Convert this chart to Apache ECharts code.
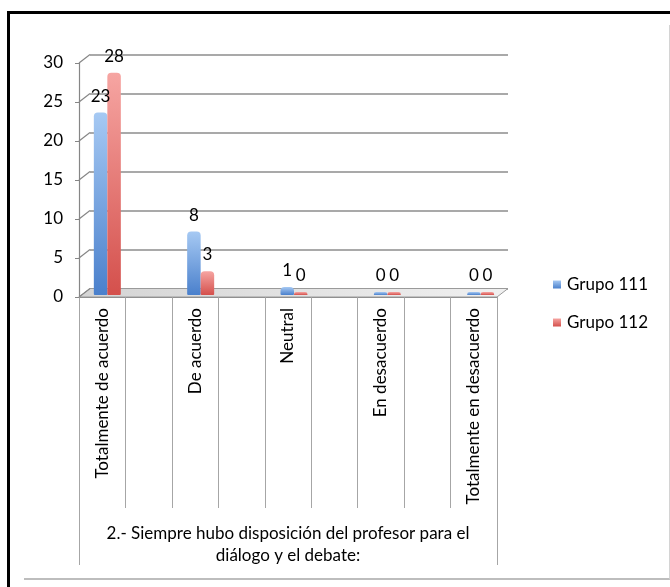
<!DOCTYPE html>
<html>
<head>
<meta charset="utf-8">
<script src="https://cdn.jsdelivr.net/npm/echarts@6/dist/echarts.min.js"></script>
<style>
  html, body { margin: 0; padding: 0; background: #fff; }
  #wrap { position: relative; width: 670px; height: 587px; overflow: hidden; }
  .frame-outer { position: absolute; left: 7px; top: 11px; right: 0; bottom: 0;
                 border-top: 3px solid #000; border-left: 3px solid #000; }
  .frame-inner { position: absolute; left: 24px; top: 25px; width: 645px; height: 553px;
                 border-right: 1px solid #d4d4d4; border-bottom: 2px solid #bdbdbd; }
  #chart { position: absolute; left: 0; top: 0; width: 670px; height: 587px; }
</style>
</head>
<body>
<div id="wrap">
  <div class="frame-outer"></div>
  <div class="frame-inner"></div>
  <div id="chart"></div>
</div>
<script>
// Survey answers per response option
const categories = ['Totalmente de acuerdo', 'De acuerdo', 'Neutral', 'En desacuerdo', 'Totalmente en desacuerdo'];
const grupo111 = [23, 8, 1, 0, 0];
const grupo112 = [28, 3, 0, 0, 0];
const seriesNames = ['Grupo 111', 'Grupo 112'];
const questionLabel = '2.- Siempre hubo disposición del profesor para el\ndiálogo y el debate:';
const yTicks = [0, 5, 10, 15, 20, 25, 30];

// The category axis has an empty slot between every two answers
const slotCats = [];
const slot111 = [];
const slot112 = [];
categories.forEach((c, i) => {
  if (i > 0) { slotCats.push(''); slot111.push('-'); slot112.push('-'); }
  slotCats.push(c);
  slot111.push(grupo111[i]);
  slot112.push(grupo112[i]);
});

const yMin = yTicks[0];
const yMax = yTicks[yTicks.length - 1];
const yStep = yTicks[1] - yTicks[0];

// pseudo-3D depth: back wall is shifted right/up from the front plane
const DX = 11, DY = -8.5;
const FRONT = { left: 79, top: 63, width: 418, height: 234 };
const BACK = { left: FRONT.left + DX, top: FRONT.top + DY, width: FRONT.width, height: FRONT.height };
const MID = { left: 84, top: 57, width: 420, height: 238 };

const FONT = 'Lato, Carlito, "Open Sans", sans-serif';
const FS = 17;
const AXIS_GRAY = '#868686';
const DIVIDER_GRAY = '#a6a6a6';

const chart = echarts.init(document.getElementById('chart'), null, { renderer: 'canvas' });

const floorFill = new echarts.graphic.LinearGradient(0, 0, 1, 0, [
  { offset: 0, color: '#d4d4d4' },
  { offset: 1, color: '#f0f0f0' }
]);

// floor of the plot and the diagonal stubs joining front ticks to the back wall
function renderDepth(params, api) {
  const v = api.value(1);
  const slot = api.size([1, 0])[0];
  const p = api.coord([0, v]);
  const x0 = p[0] - slot / 2;
  const children = [];
  if (v === yMin) {
    const pr = api.coord([slotCats.length - 1, v]);
    const x1 = pr[0] + slot / 2;
    children.push({
      type: 'polygon',
      shape: { points: [[x0, p[1]], [x1, p[1]], [x1 + DX, p[1] + DY], [x0 + DX, p[1] + DY]] },
      style: { fill: floorFill, stroke: '#9a9a9a', lineWidth: 1 }
    });
  }
  children.push({
    type: 'line',
    shape: { x1: x0, y1: p[1], x2: x0 + DX, y2: p[1] + DY },
    style: { stroke: AXIS_GRAY, lineWidth: 1.2 }
  });
  return { type: 'group', children };
}

const blueFill = new echarts.graphic.LinearGradient(0, 0, 0, 1, [
  { offset: 0, color: '#a6c9f3' },
  { offset: 1, color: '#4a80cc' }
]);
const redFill = new echarts.graphic.LinearGradient(0, 0, 0, 1, [
  { offset: 0, color: '#f6a5a2' },
  { offset: 1, color: '#d4504c' }
]);

const barLabel = {
  show: true, position: 'top', distance: 8,
  fontFamily: FONT, fontSize: FS, color: '#000'
};

const option = {
  animation: false,
  backgroundColor: 'transparent',
  textStyle: { fontFamily: FONT, color: '#000' },
  legend: {
    data: seriesNames,
    orient: 'vertical',
    left: 553, top: 276, padding: 0,
    icon: 'rect', itemWidth: 8, itemHeight: 8, itemGap: 21,
    textStyle: { fontFamily: FONT, fontSize: FS, color: '#000', padding: [0, 0, 0, 1] },
    selectedMode: false
  },
  grid: [
    Object.assign({ outerBoundsMode: 'none', containLabel: false }, FRONT),
    Object.assign({ outerBoundsMode: 'none', containLabel: false }, BACK),
    Object.assign({ outerBoundsMode: 'none', containLabel: false }, MID)
  ],
  xAxis: [
    {
      gridIndex: 0, type: 'category', data: slotCats, position: 'bottom',
      axisLine: { show: true, lineStyle: { color: AXIS_GRAY, width: 1.2 } },
      axisTick: { show: true, interval: 0, length: 211, lineStyle: { color: DIVIDER_GRAY } },
      axisLabel: { interval: 0, rotate: 90, margin: 11, fontSize: FS, color: '#000', fontFamily: FONT },
      splitLine: { show: false }
    },
    {
      gridIndex: 0, type: 'category', data: [questionLabel], position: 'bottom', offset: 0,
      axisLine: { show: false },
      axisTick: { show: true, length: 268, lineStyle: { color: DIVIDER_GRAY } },
      axisLabel: { margin: 226, fontSize: FS, lineHeight: 22, color: '#000', fontFamily: FONT, align: 'center' },
      splitLine: { show: false }
    },
    { gridIndex: 1, type: 'category', data: slotCats, show: false },
    { gridIndex: 2, type: 'category', data: slotCats, show: false }
  ],
  yAxis: [
    {
      gridIndex: 0, type: 'value', min: yMin, max: yMax, interval: yStep,
      axisLine: { show: true, lineStyle: { color: AXIS_GRAY, width: 1.2 } },
      axisTick: { show: true, length: 4, lineStyle: { color: AXIS_GRAY } },
      axisLabel: { margin: 16, fontSize: FS, color: '#000', fontFamily: FONT },
      splitLine: { show: false }
    },
    {
      gridIndex: 1, type: 'value', min: yMin, max: yMax, interval: yStep,
      axisLine: { show: false }, axisTick: { show: false }, axisLabel: { show: false },
      splitLine: { show: true, lineStyle: { color: '#8c8c8c', width: 1.5 } }
    },
    { gridIndex: 2, type: 'value', min: yMin, max: yMax, interval: yStep, show: false }
  ],
  series: [
    {
      type: 'custom', name: 'depth', xAxisIndex: 0, yAxisIndex: 0,
      data: yTicks.map(v => [0, v]),
      renderItem: renderDepth, silent: true, z: 1
    },
    {
      type: 'bar', name: seriesNames[0], xAxisIndex: 3, yAxisIndex: 2,
      data: slot111, barWidth: 13.5, barGap: '0%', barMinHeight: 3,
      itemStyle: { color: blueFill, borderRadius: [4, 4, 1, 1] },
      label: barLabel, z: 3
    },
    {
      type: 'bar', name: seriesNames[1], xAxisIndex: 3, yAxisIndex: 2,
      data: slot112, barWidth: 13.5, barGap: '0%', barMinHeight: 3,
      itemStyle: { color: redFill, borderRadius: [4, 4, 1, 1] },
      label: barLabel, z: 3
    }
  ]
};

chart.setOption(option);
</script>
</body>
</html>
